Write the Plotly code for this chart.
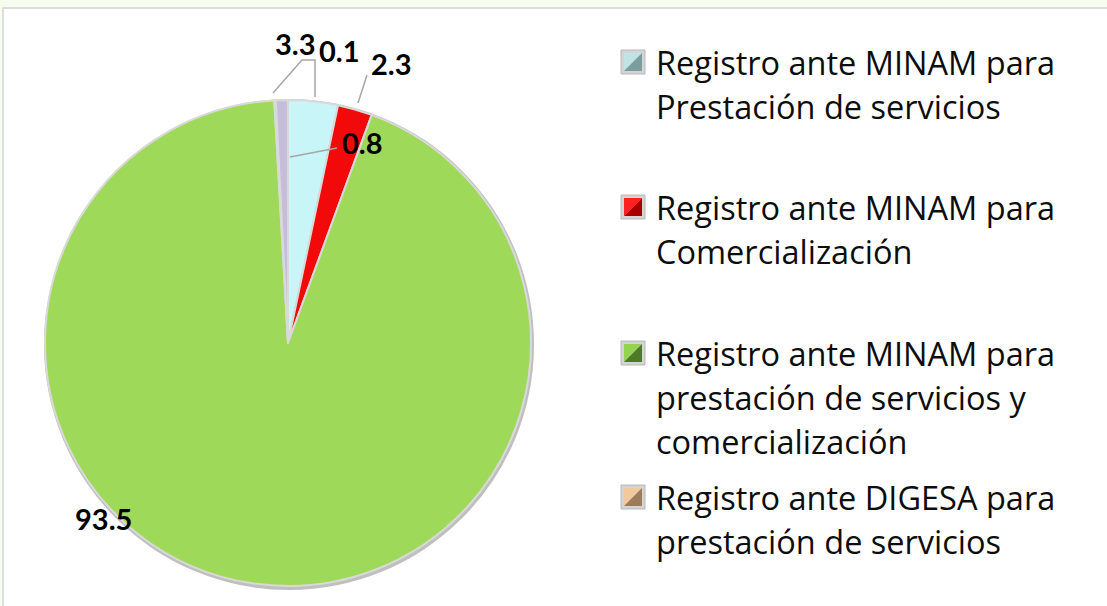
import plotly.graph_objects as go

# ---- data ----
labels = [
    "Registro ante MINAM para Prestación de servicios",
    "Registro ante MINAM para Comercialización",
    "Registro ante MINAM para prestación de servicios y comercialización",
    "Registro ante DIGESA para prestación de servicios",
    "Registro ante DIGESA para comercialización",
]
values = [3.3, 2.3, 93.5, 0.1, 0.8]
value_text = ["3.3", "2.3", "93.5", "0.1", "0.8"]
slice_colors = ["#c8f5f7", "#f20a0a", "#9fd95a", "#ece4dc", "#c6bdd9"]

legend_lines = [
    ["Registro ante MINAM para", "Prestación de servicios"],
    ["Registro ante MINAM para", "Comercialización"],
    ["Registro ante MINAM para", "prestación de servicios y", "comercialización"],
    ["Registro ante DIGESA para", "prestación de servicios"],
]
legend_light = ["#c0e4e5", "#ff2020", "#92d450", "#f2c99c"]
legend_dark = ["#7b9d9e", "#a80000", "#4d7a26", "#9c7c5a"]

# ---- layout helpers (pixel -> paper) ----
W, H = 1107, 606
def px(x):
    return x / W
def py(y):
    return 1 - y / H

cx, cy, R = 288, 343, 243

fig = go.Figure()
fig.add_trace(go.Pie(
    labels=labels,
    values=values,
    sort=False,
    direction="clockwise",
    rotation=0,
    marker=dict(colors=slice_colors, line=dict(color="#d9d9d9", width=2)),
    textinfo="none",
    hoverinfo="label+value",
    showlegend=False,
    domain=dict(x=[px(cx - R), px(cx + R)], y=[py(cy + R), py(cy - R)]),
))

shapes = []
# white panel with border
shapes.append(dict(type="rect", xref="paper", yref="paper",
                   x0=px(3), x1=px(1115), y0=py(620), y1=py(8),
                   fillcolor="white", line=dict(color="#d3d3d3", width=1.5), layer="below"))
# pie shadow
shapes.append(dict(type="circle", xref="paper", yref="paper",
                   x0=px(cx - R - 1), x1=px(cx + R + 3), y0=py(cy + R + 4), y1=py(cy - R - 1),
                   fillcolor="#8a8a8a", opacity=0.55, line=dict(width=0), layer="below"))

def path(points):
    return "M " + " L ".join(f"{px(x)},{py(y)}" for x, y in points)

lead = "#a6a6a6"
shapes.append(dict(type="path", xref="paper", yref="paper",
                   path=path([(273, 93), (302, 60), (315, 60), (315, 97)]),
                   line=dict(color=lead, width=1.5)))
shapes.append(dict(type="path", xref="paper", yref="paper",
                   path=path([(367, 75), (358, 103)]), line=dict(color=lead, width=1.5)))
shapes.append(dict(type="path", xref="paper", yref="paper",
                   path=path([(337, 148), (290, 157)]), line=dict(color=lead, width=1.5)))

annotations = []
label_pos = {"3.3": (295, 43), "0.1": (339, 50), "2.3": (391, 64), "0.8": (362, 142), "93.5": (103, 518)}
for t in value_text:
    x, y = label_pos[t]
    annotations.append(dict(text=f"<b>{t}</b>", x=px(x), y=py(y), xref="paper", yref="paper",
                            xanchor="center", yanchor="middle", showarrow=False,
                            font=dict(family="Lato", size=29, color="#000000")))

# legend
item_y = [62, 207, 353, 497]
line_pitch = 44
sq = 12
for i, lines in enumerate(legend_lines):
    yc = item_y[i]
    x0, x1, y0, y1 = 621, 645, yc - sq, yc + sq
    shapes.append(dict(type="rect", xref="paper", yref="paper",
                       x0=px(x0), x1=px(x1), y0=py(y1), y1=py(y0),
                       fillcolor="#d4d4d4", line=dict(color="#b8b8b8", width=1)))
    ix0, ix1, iy0, iy1 = x0 + 3, x1 - 3, y0 + 3, y1 - 3
    shapes.append(dict(type="path", xref="paper", yref="paper",
                       path=path([(ix0, iy0), (ix1, iy0), (ix0, iy1)]) + " Z",
                       fillcolor=legend_light[i], line=dict(width=0)))
    shapes.append(dict(type="path", xref="paper", yref="paper",
                       path=path([(ix1, iy0), (ix1, iy1), (ix0, iy1)]) + " Z",
                       fillcolor=legend_dark[i], line=dict(width=0)))
    for j, ln in enumerate(lines):
        annotations.append(dict(text=ln, x=px(654), y=py(yc + j * line_pitch),
                                xref="paper", yref="paper", xanchor="left", yanchor="middle",
                                showarrow=False,
                                font=dict(family="Open Sans", size=32.5, color="#0d0d0d")))

fig.update_layout(
    width=W, height=H,
    margin=dict(l=0, r=0, t=0, b=0),
    paper_bgcolor="#f6fdef",
    plot_bgcolor="white",
    shapes=shapes,
    annotations=annotations,
)

fig.write_html("out.html", config={"displayModeBar": False},
               post_script="document.body.style.margin='0';")
